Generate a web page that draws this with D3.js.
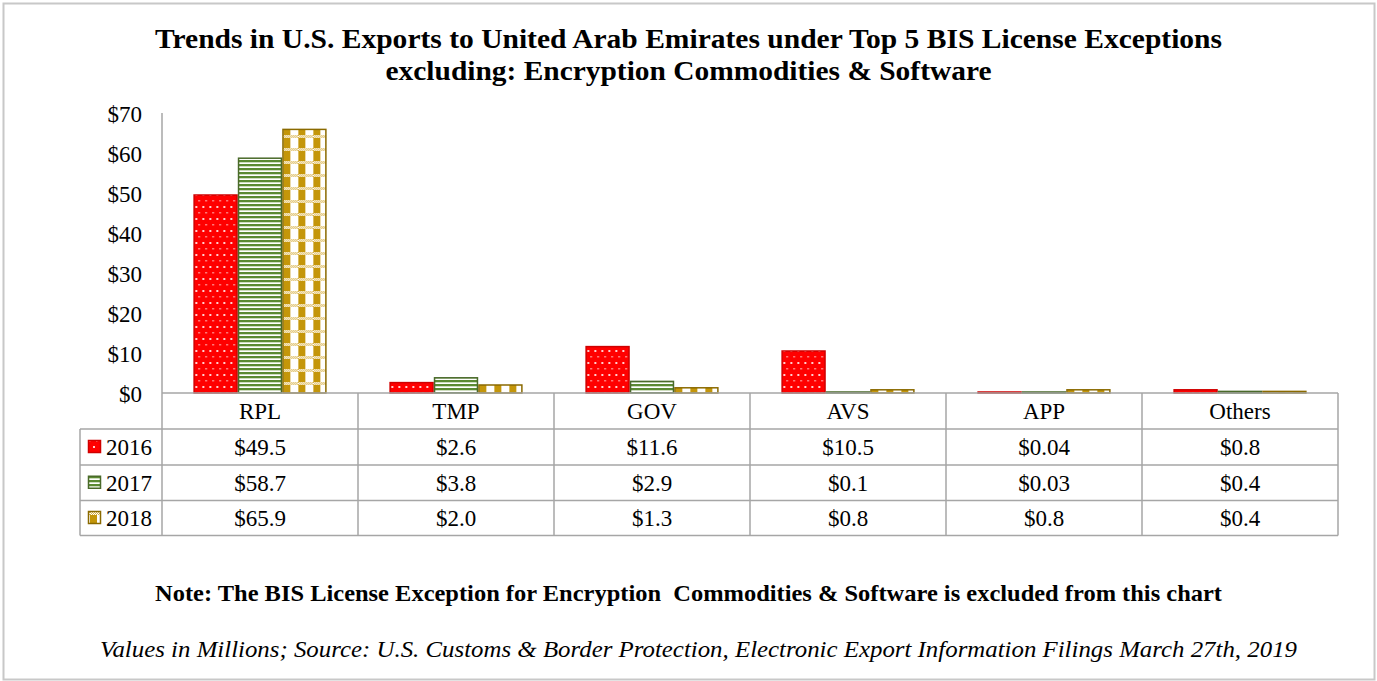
<!DOCTYPE html>
<html>
<head>
<meta charset="utf-8">
<script src="https://cdn.jsdelivr.net/npm/d3@7"></script>
<style>
html,body{margin:0;padding:0;background:#fff;}
svg text{font-family:"Liberation Serif","Times New Roman",serif;fill:#000;}
</style>
</head>
<body>
<svg id="chart" width="1377" height="681"></svg>
<script>
const categories = ["RPL", "TMP", "GOV", "AVS", "APP", "Others"];
const seriesNames = ["2016", "2017", "2018"];
const values2016 = [49.5, 2.6, 11.6, 10.5, 0.04, 0.8];
const values2017 = [58.7, 3.8, 2.9, 0.1, 0.03, 0.4];
const values2018 = [65.9, 2.0, 1.3, 0.8, 0.8, 0.4];
const yTicks = [0, 10, 20, 30, 40, 50, 60, 70];
const titleLines = [
  "Trends in U.S. Exports to United Arab Emirates under Top 5 BIS License Exceptions",
  "excluding: Encryption Commodities & Software"
];
const noteText = "Note: The BIS License Exception for Encryption  Commodities & Software is excluded from this chart";
const sourceText = "Values in Millions; Source: U.S. Customs & Border Protection, Electronic Export Information Filings March 27th, 2019";

const seriesValues = [values2016, values2017, values2018];

const svg = d3.select("#chart");
const W = 1377, H = 681;

// outer border
svg.append("rect").attr("x", 3.5).attr("y", 3.5).attr("width", W - 6).attr("height", H - 5)
  .attr("fill", "#fff").attr("stroke", "#c8c8c8").attr("stroke-width", 2);

// patterns
const defs = svg.append("defs");
const pRed = defs.append("pattern").attr("id", "pRed").attr("patternUnits", "userSpaceOnUse")
  .attr("width", 7).attr("height", 12);
pRed.append("rect").attr("width", 7).attr("height", 12).attr("fill", "#ff0000");
pRed.append("rect").attr("x", 2).attr("y", 2).attr("width", 2).attr("height", 2).attr("fill", "#ffd0d0");
pRed.append("rect").attr("x", 5).attr("y", 8).attr("width", 1.5).attr("height", 1.5).attr("fill", "#ffb0b0");

const pGreen = defs.append("pattern").attr("id", "pGreen").attr("patternUnits", "userSpaceOnUse")
  .attr("width", 8).attr("height", 4);
pGreen.append("rect").attr("width", 8).attr("height", 4).attr("fill", "#ffffff");
pGreen.append("rect").attr("y", 0).attr("width", 8).attr("height", 2).attr("fill", "#5b8a32");
pGreen.append("rect").attr("y", 2).attr("width", 8).attr("height", 0.7).attr("fill", "#b9cfa2");

const pGold = defs.append("pattern").attr("id", "pGold").attr("patternUnits", "userSpaceOnUse")
  .attr("width", 15).attr("height", 13);
pGold.append("rect").attr("width", 15).attr("height", 13).attr("fill", "#ffffff");
pGold.append("rect").attr("x", 0).attr("width", 7).attr("height", 13).attr("fill", "#c4960a");
for (let i = 0; i < 15; i++) {
  pGold.append("rect").attr("x", i).attr("y", 5).attr("width", 1).attr("height", 1)
    .attr("fill", i % 2 ? "#ffffff" : "#d9b34a");
  pGold.append("rect").attr("x", i).attr("y", 6).attr("width", 1).attr("height", 1)
    .attr("fill", i % 2 ? "#d9b34a" : "#ffffff");
  pGold.append("rect").attr("x", i).attr("y", 7).attr("width", 1).attr("height", 1)
    .attr("fill", i % 2 ? "#ffffff" : "#d9b34a");
}

const fills = ["url(#pRed)", "url(#pGreen)", "url(#pGold)"];
const strokes = ["#d00000", "#4a6a2a", "#8a6a00"];

// title
const titleWidths = [1067, 606];
svg.selectAll("text.title").data(titleLines).join("text").attr("class", "title")
  .attr("x", 688.5).attr("y", (d, i) => 48 + i * 32)
  .attr("text-anchor", "middle").attr("font-size", 27).attr("font-weight", "bold")
  .attr("textLength", (d, i) => titleWidths[i]).attr("lengthAdjust", "spacingAndGlyphs")
  .text(d => d);

// scales
const x0 = d3.scaleBand().domain(categories).range([162, 1338]).paddingInner(0.32).paddingOuter(0.16);
const x1 = d3.scaleBand().domain(seriesNames).range([0, x0.bandwidth()]);
const y = d3.scaleLinear().domain([0, 70]).range([393, 113]);

const gridCol = "#a6a6a6";
const FS = 23;

// y axis
const yAxis = d3.axisLeft(y).tickValues(yTicks).tickSize(0).tickPadding(20).tickFormat(d => "$" + d);
const gy = svg.append("g").attr("transform", "translate(162,0)").call(yAxis);
gy.select(".domain").remove();
gy.selectAll("text").attr("font-size", FS).attr("font-family", "Liberation Serif, serif").attr("fill", "#000")
  .attr("dy", "0.36em");

svg.append("line").attr("x1", 162).attr("x2", 162).attr("y1", 113).attr("y2", 536)
  .attr("stroke", gridCol).attr("stroke-width", 1.5);

// bars
const groups = svg.append("g").selectAll("g").data(categories).join("g")
  .attr("transform", d => `translate(${x0(d)},0)`);
groups.selectAll("rect").data((c, ci) => seriesNames.map((s, si) => ({ s, si, v: seriesValues[si][ci] })))
  .join("rect")
  .attr("x", d => x1(d.s) + 0.75)
  .attr("width", x1.bandwidth() - 1.5)
  .attr("y", d => Math.min(y(d.v), y(0) - 1))
  .attr("height", d => Math.max(y(0) - y(d.v), 1))
  .attr("fill", d => fills[d.si])
  .attr("stroke", d => strokes[d.si]).attr("stroke-width", 1.5);

// data table
const step = x0.step();
const tableLeft = 80, tableRight = 1338;
const rowY = [393, 429, 465, 500.5, 535.5];

svg.append("line").attr("x1", 162).attr("x2", tableRight).attr("y1", rowY[0]).attr("y2", rowY[0])
  .attr("stroke", gridCol).attr("stroke-width", 1.5);
for (let i = 1; i < rowY.length; i++) {
  svg.append("line").attr("x1", tableLeft).attr("x2", tableRight).attr("y1", rowY[i]).attr("y2", rowY[i])
    .attr("stroke", gridCol).attr("stroke-width", 1.5);
}
svg.append("line").attr("x1", tableLeft).attr("x2", tableLeft).attr("y1", rowY[1]).attr("y2", rowY[4])
  .attr("stroke", gridCol).attr("stroke-width", 1.5);
for (let i = 1; i <= categories.length; i++) {
  const xv = 162 + i * step;
  svg.append("line").attr("x1", xv).attr("x2", xv).attr("y1", rowY[0]).attr("y2", rowY[4])
    .attr("stroke", gridCol).attr("stroke-width", 1.5);
}

svg.selectAll("text.cat").data(categories).join("text").attr("class", "cat")
  .attr("x", d => x0(d) + x0.bandwidth() / 2).attr("y", 419)
  .attr("text-anchor", "middle").attr("font-size", FS).text(d => d);

const fmt = v => "$" + (Math.round(v * 10) / 10 === v ? d3.format(".1f")(v) : d3.format(".2f")(v));

seriesNames.forEach((s, si) => {
  const cy = (rowY[si + 1] + rowY[si + 2]) / 2;
  svg.append("rect").attr("x", 88.5).attr("y", cy - 6.5).attr("width", 12).attr("height", 12)
    .attr("fill", fills[si]).attr("stroke", strokes[si]).attr("stroke-width", 1.5);
  svg.append("text").attr("x", 106).attr("y", cy + 8).attr("font-size", FS).text(s);
  svg.selectAll("text.v" + si).data(categories).join("text").attr("class", "v" + si)
    .attr("x", d => x0(d) + x0.bandwidth() / 2).attr("y", cy + 8)
    .attr("text-anchor", "middle").attr("font-size", FS)
    .text((d, ci) => fmt(seriesValues[si][ci]));
});

// note and source
svg.append("text").attr("x", 688.5).attr("y", 601).attr("text-anchor", "middle")
  .attr("font-size", 23).attr("font-weight", "bold").attr("xml:space", "preserve")
  .attr("textLength", 1067).attr("lengthAdjust", "spacingAndGlyphs").text(noteText);
svg.append("text").attr("x", 698.5).attr("y", 657).attr("text-anchor", "middle")
  .attr("font-size", 23).attr("font-style", "italic")
  .attr("textLength", 1197).attr("lengthAdjust", "spacingAndGlyphs").text(sourceText);
</script>
</body>
</html>
